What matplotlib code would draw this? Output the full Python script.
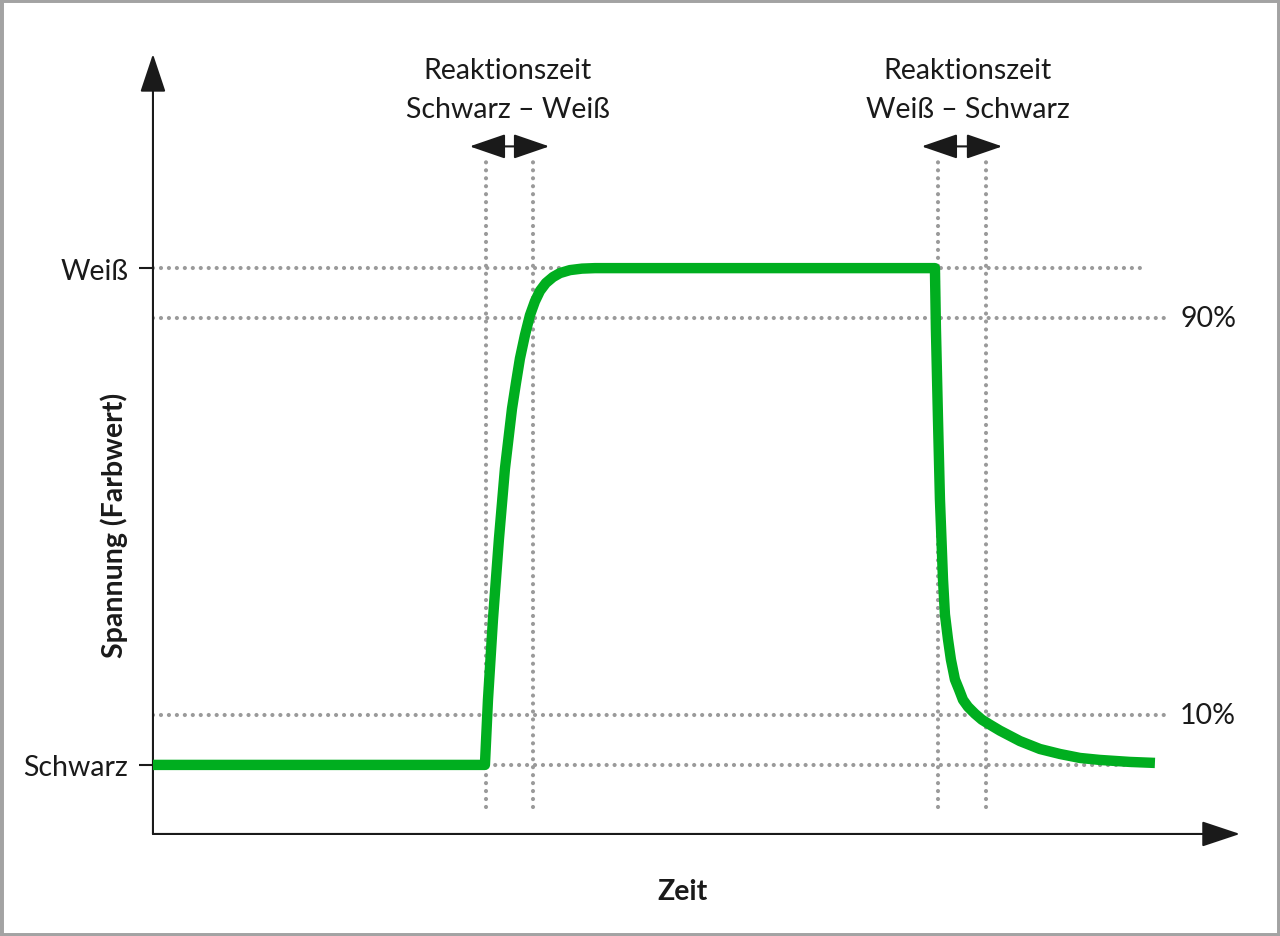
# coding: utf8
# Reaktionszeit eines Displays: Spannung (Farbwert) ueber der Zeit

import matplotlib
matplotlib.use('Agg')
import matplotlib.pyplot as plt
from matplotlib.patches import Rectangle

# DATA

# time (arbitrary units) and level (0 = Schwarz, 1 = Weiss) of the green curve
zeit = [0.0, 30.54, 30.82, 31.28, 31.83, 32.38, 33.03, 33.39, 33.76,
        34.22, 34.68, 35.14, 35.60, 36.15, 36.80, 37.44, 38.36, 39.47, 40.66,
        71.94, 72.03, 72.22, 72.40, 72.68, 72.86, 73.14, 73.41, 73.78, 74.15,
        74.52, 74.98, 75.62, 76.26, 77.00, 77.92, 79.76, 81.60, 83.44, 85.28,
        87.12, 89.88, 92.18]
spannung = [0.0, 0.0, 0.131, 0.293, 0.455, 0.596, 0.717, 0.768, 0.818,
            0.865, 0.905, 0.933, 0.954, 0.970, 0.982, 0.990, 0.996, 0.999, 1.0,
            1.0, 0.879, 0.697, 0.535, 0.374, 0.303, 0.253, 0.212, 0.172, 0.152,
            0.131, 0.117, 0.103, 0.091, 0.081, 0.069, 0.048, 0.032, 0.022, 0.014,
            0.010, 0.006, 0.004]

tick_values = [0.0, 1.0]
tick_labels = ['Schwarz', 'Weiß']

prozent_values = [0.9, 0.1]
prozent_labels = ['90%', '10%']

# moments of the two reaction times: start, end
reaktion_sw = [30.64, 34.96]
reaktion_ws = [72.22, 76.63]
reaktion_texte = ['Reaktionszeit\nSchwarz – Weiß', 'Reaktionszeit\nWeiß – Schwarz']

GRUEN = '#00ae1f'
GRAU = '#9a9a9a'
SCHWARZ = '#1a1a1a'


def dotted(ax, xs, ys):
	ax.plot(xs, ys, color=GRAU, lw=3, linestyle=(0, (0.01, 1.9)),
	        dash_capstyle='round', zorder=1)


def main():
	plt.rcParams['font.family'] = ['Lato', 'DejaVu Sans']

	fig = plt.figure(figsize=(12.8, 9.37), dpi=100)
	ax = fig.add_axes([0.1195, 0.1089, 0.8492, 0.8324])
	ax.set_xlim(0, 100)
	ax.set_ylim(-0.139, 1.431)

	for s in ax.spines.values():
		s.set_visible(False)

	# axes with arrow heads
	pfeil = dict(arrowstyle='-|>,head_length=1.2,head_width=0.4', mutation_scale=20,
	             lw=1.5, color=SCHWARZ, shrinkA=0, shrinkB=0)
	ax.annotate('', xy=(0, 1), xytext=(0, 0), xycoords='axes fraction',
	            arrowprops=pfeil, annotation_clip=False)
	ax.annotate('', xy=(1, 0), xytext=(0, 0), xycoords='axes fraction',
	            arrowprops=pfeil, annotation_clip=False)

	# ticks
	ax.set_xticks([])
	ax.set_yticks(tick_values)
	ax.set_yticklabels(tick_labels, fontsize=20.5, color=SCHWARZ)
	ax.tick_params(axis='y', length=10, width=1.5, pad=8, color=SCHWARZ)

	# dotted helper lines
	dotted(ax, [0, 91.3], [1.0, 1.0])
	dotted(ax, [0, 91.3], [0.0, 0.0])
	for v, lab in zip(prozent_values, prozent_labels):
		dotted(ax, [0, 93.6], [v, v])
		ax.text(94.5, v, lab, fontsize=20.5, color=SCHWARZ, va='center', ha='left')
	for t in reaktion_sw + reaktion_ws:
		dotted(ax, [t, t], [-0.085, 1.22])

	# reaction time arrows and texts
	doppel = dict(arrowstyle='<|-|>,head_length=1.6,head_width=0.55', mutation_scale=14,
	              lw=1.5, color=SCHWARZ, shrinkA=0, shrinkB=0)
	for (t0, t1), txt, tx in zip([reaktion_sw, reaktion_ws], reaktion_texte, [32.66, 74.98]):
		ax.annotate('', xy=(t1 + 1.5, 1.245), xytext=(t0 - 1.5, 1.245),
		            arrowprops=doppel, annotation_clip=False)
		ax.text(tx, 1.359, txt, fontsize=20.5, color=SCHWARZ, ha='center', va='center',
		        linespacing=1.6)

	# green curve
	ax.plot(zeit, spannung, color=GRUEN, lw=7.5, solid_joinstyle='round',
	        solid_capstyle='butt', zorder=3)

	ax.set_xlabel('Zeit', fontsize=20.5, fontweight='bold', color=SCHWARZ)
	ax.xaxis.set_label_coords(0.4876, -0.0564)
	ax.set_ylabel('Spannung (Farbwert)', fontsize=20.5, fontweight='bold', color=SCHWARZ)
	ax.yaxis.set_label_coords(-0.023, 0.397)

	fig.patches.append(Rectangle((0, 0), 1, 1, transform=fig.transFigure, fill=False,
	                             edgecolor='#a3a3a3', lw=5))

	fig.savefig('out.png', dpi=100)


if __name__ == "__main__":
	main()
